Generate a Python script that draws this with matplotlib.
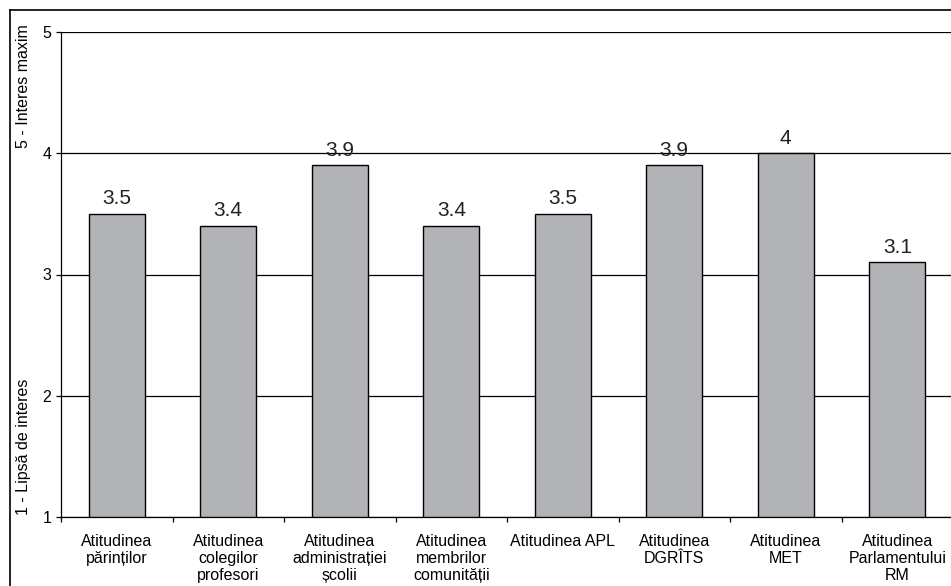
import matplotlib
matplotlib.use("Agg")
import matplotlib.pyplot as plt
from matplotlib.lines import Line2D
import numpy as np

categories = ["Atitudinea\npărinților", "Atitudinea\ncolegilor\nprofesori",
              "Atitudinea\nadministrației\nșcolii", "Atitudinea\nmembrilor\ncomunității",
              "Atitudinea APL", "Atitudinea\nDGRÎTS", "Atitudinea\nMET",
              "Atitudinea\nParlamentului\nRM"]
values = [3.5, 3.4, 3.9, 3.4, 3.5, 3.9, 4.0, 3.1]
value_labels = ["3.5", "3.4", "3.9", "3.4", "3.5", "3.9", "4", "3.1"]
yticks = [1, 2, 3, 4, 5]

plt.rcParams['font.family'] = ['Liberation Sans', 'DejaVu Sans']

W, H = 951, 586
fig = plt.figure(figsize=(W/100, H/100), dpi=100)
ax = fig.add_axes([61/W, 1-517/H, (953-61)/W, (517-32)/H])

x = np.arange(len(categories))
ax.bar(x, [v - 1 for v in values], bottom=1, width=0.5, color='#b2b3b7',
       edgecolor='black', linewidth=1, zorder=3)
for xi, v, lab in zip(x, values, value_labels):
    ax.annotate(lab, (xi, v), xytext=(0, 4), textcoords='offset points',
                ha='center', va='bottom', fontsize=15, color='#222222')

ax.set_xlim(-0.5, len(categories) - 0.5)
ax.set_ylim(1, 5)
ax.set_yticks(yticks)
ax.set_yticklabels([str(t) for t in yticks], fontsize=11.5)
ax.yaxis.grid(True, color='black', linewidth=0.9, zorder=0)
ax.set_axisbelow(True)

ax.set_xticks(x)
ax.set_xticklabels(categories, fontsize=11.5, linespacing=1.2)
ax.set_xticks(np.arange(len(categories) + 1) - 0.5, minor=True)
ax.tick_params(axis='x', which='major', length=0, pad=12)
ax.tick_params(axis='x', which='minor', length=3.6, width=0.9, direction='out')
ax.tick_params(axis='y', length=3.5, width=0.9, direction='out', pad=3.5)

for s in ['top', 'right']:
    ax.spines[s].set_visible(False)
ax.spines['left'].set_linewidth(0.9)
ax.spines['bottom'].set_linewidth(0.9)

fig.text(24/W, 1-86/H, "5 - Interes maxim", rotation=90, ha='center', va='center', fontsize=11.5)
fig.text(24/W, 1-447/H, "1 - Lipsă de interes", rotation=90, ha='center', va='center', fontsize=11.5)

fig.add_artist(Line2D([10/W, 10/W], [0, 1-10/H], color='black', linewidth=1.2))
fig.add_artist(Line2D([10/W, 1], [1-10/H, 1-10/H], color='black', linewidth=1.2))

fig.savefig("out.png", dpi=100)
